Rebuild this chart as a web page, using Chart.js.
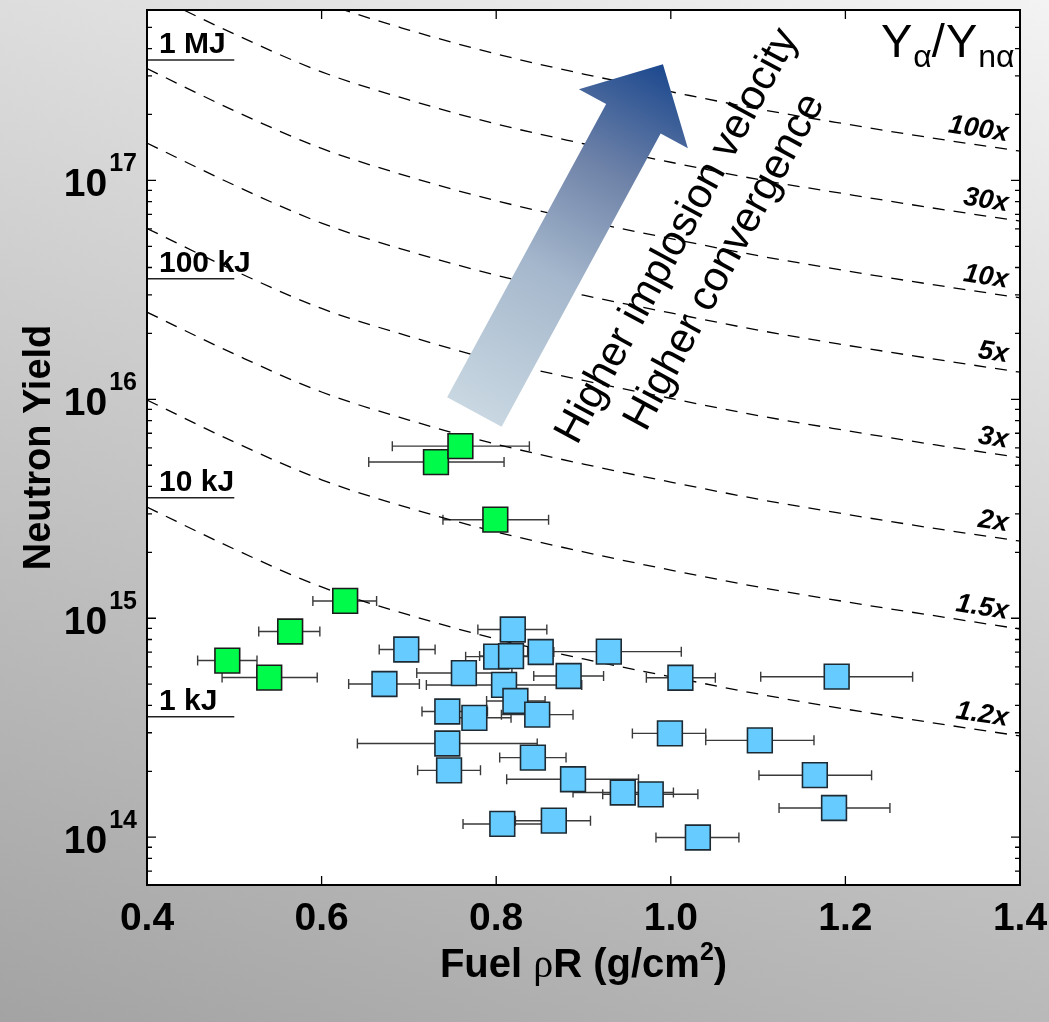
<!DOCTYPE html>
<html>
<head>
<meta charset="utf-8">
<script src="https://cdn.jsdelivr.net/npm/chart.js@4.4.1/dist/chart.umd.min.js"></script>
<style>
  html, body { margin: 0; padding: 0; }
  body {
    width: 1049px; height: 1022px; overflow: hidden;
    background: linear-gradient(200deg, #f3f3f3 0%, #a3a3a3 100%);
  }
  canvas { display: block; }
</style>
</head>
<body>
<canvas id="yieldChart" width="1049" height="1022"></canvas>
<script>
const curveRhoR = [0.4, 0.5, 0.6, 0.7, 0.8, 0.9, 1.0, 1.1, 1.2, 1.3, 1.4];
const amp100x = [1.51e18, 9.73e17, 6.53e17, 4.86e17, 3.78e17, 3.06e17, 2.54e17, 2.12e17, 1.81e17, 1.56e17, 1.36e17];
const amp30x = [7.24e17, 4.66e17, 3.13e17, 2.33e17, 1.81e17, 1.47e17, 1.21e17, 1.01e17, 8.67e16, 7.48e16, 6.52e16];
const amp10x = [3.24e17, 2.08e17, 1.40e17, 1.04e17, 8.07e16, 6.55e16, 5.42e16, 4.53e16, 3.87e16, 3.34e16, 2.91e16];
const amp5x = [1.48e17, 9.51e16, 6.38e16, 4.75e16, 3.69e16, 2.99e16, 2.48e16, 2.07e16, 1.77e16, 1.53e16, 1.33e16];
const amp3x = [6.03e16, 3.87e16, 2.60e16, 1.94e16, 1.50e16, 1.22e16, 1.01e16, 8.43e15, 7.21e15, 6.22e15, 5.42e15];
const amp2x = [2.50e16, 1.61e16, 1.08e16, 8.04e15, 6.24e15, 5.06e15, 4.19e15, 3.50e15, 2.99e15, 2.58e15, 2.25e15];
const amp1p5x = [9.93e15, 6.38e15, 4.29e15, 3.19e15, 2.48e15, 2.01e15, 1.66e15, 1.39e15, 1.19e15, 1.03e15, 8.93e14];
const amp1p2x = [3.22e15, 2.07e15, 1.39e15, 1.035e15, 8.04e14, 6.52e14, 5.40e14, 4.51e14, 3.85e14, 3.33e14, 2.90e14];
const ampCurves = [amp100x, amp30x, amp10x, amp5x, amp3x, amp2x, amp1p5x, amp1p2x];
const ampLabels = ["100x", "30x", "10x", "5x", "3x", "2x", "1.5x", "1.2x"];

// yield equivalent of fusion energy (short reference lines at left)
const energyRhoR = [0.4, 0.5];
const energyYield = [3.55e14, 3.55e15, 3.55e16, 3.55e17];
const energyLabels = ["1 kJ", "10 kJ", "100 kJ", "1 MJ"];

// green shots
const greenRhoR = [0.731, 0.759, 0.799, 0.627, 0.564, 0.492, 0.540];
const greenYield = [5.17e15, 6.11e15, 2.82e15, 1.20e15, 8.70e14, 6.41e14, 5.36e14];
const greenRhoRLow = [0.654, 0.681, 0.739, 0.590, 0.528, 0.458, 0.486];
const greenRhoRHigh = [0.809, 0.838, 0.860, 0.663, 0.598, 0.526, 0.595];

// blue shots
const blueRhoR = [0.819, 0.697, 0.800, 0.817, 0.851, 0.929, 0.763, 0.883, 0.672, 0.809,
  0.822, 0.744, 0.775, 0.847, 0.744, 0.842, 0.746, 0.888, 0.945, 0.977,
  0.807, 0.866, 1.031, 1.190, 1.011, 0.999, 1.102, 1.165, 1.187];
const blueYield = [8.89e14, 7.20e14, 6.68e14, 6.72e14, 7.01e14, 7.04e14, 5.62e14, 5.45e14, 5.01e14, 4.96e14,
  4.19e14, 3.75e14, 3.51e14, 3.63e14, 2.68e14, 2.31e14, 2.02e14, 1.84e14, 1.60e14, 1.57e14,
  1.15e14, 1.19e14, 9.97e13, 5.41e14, 5.35e14, 2.98e14, 2.77e14, 1.92e14, 1.36e14];
const blueRhoRLow = [0.779, 0.666, 0.765, 0.781, 0.836, 0.845, 0.709, 0.843, 0.631, 0.720,
  0.789, 0.715, 0.734, 0.806, 0.641, 0.804, 0.710, 0.812, 0.888, 0.922,
  0.762, 0.822, 0.983, 1.103, 0.972, 0.956, 1.040, 1.101, 1.124];
const blueRhoRHigh = [0.858, 0.730, 0.852, 0.857, 0.866, 1.012, 0.818, 0.923, 0.712, 0.898,
  0.856, 0.790, 0.817, 0.888, 0.847, 0.880, 0.782, 0.963, 1.003, 1.031,
  0.853, 0.908, 1.078, 1.277, 1.051, 1.040, 1.164, 1.230, 1.251];

// axis ticks
const xTickValues = [0.4, 0.6, 0.8, 1.0, 1.2, 1.4];
const xTickLabels = ["0.4", "0.6", "0.8", "1.0", "1.2", "1.4"];
const yTickExponents = [14, 15, 16, 17];

// arrow annotation (tail -> tip, in data units)
const arrowTail = [0.775, 8.75e15];
const arrowTip = [0.991, 3.39e17];
const arrowText = ["Higher implosion velocity", "Higher convergence"];
const arrowTextAnchor = [1.035, 4.85e16];

const SANS = "'Liberation Sans', Arial, Helvetica, sans-serif";

const toPoints = (xs, ys) => xs.map((v, i) => ({ x: v, y: ys[i] }));

const datasets = [];
datasets.push({
  label: "green",
  data: toPoints(greenRhoR, greenYield),
  pointStyle: "rect",
  pointRadius: 17.5,
  backgroundColor: "#00fb4b",
  borderColor: "#1b1b1b",
  borderWidth: 1.6,
  order: 0,
});
datasets.push({
  label: "blue",
  data: toPoints(blueRhoR, blueYield),
  pointStyle: "rect",
  pointRadius: 17.5,
  backgroundColor: "#66ccff",
  borderColor: "#1d2a33",
  borderWidth: 1.6,
  order: 1,
});
ampCurves.forEach((c, i) => {
  datasets.push({
    label: ampLabels[i],
    data: toPoints(curveRhoR, c),
    showLine: true,
    pointRadius: 0,
    borderColor: "#000",
    borderWidth: 1.3,
    borderDash: [12, 9],
    cubicInterpolationMode: "monotone",
    order: 3,
  });
});
energyYield.forEach((e, i) => {
  datasets.push({
    label: energyLabels[i],
    data: toPoints(energyRhoR, [e, e]),
    showLine: true,
    pointRadius: 0,
    borderColor: "#222",
    borderWidth: 1.5,
    order: 2,
  });
});

function errorBars(ctx, x, y, rr, yy, lo, hi) {
  rr.forEach((v, i) => {
    const py = y.getPixelForValue(yy[i]);
    const x0 = x.getPixelForValue(lo[i]);
    const x1 = x.getPixelForValue(hi[i]);
    ctx.beginPath();
    ctx.moveTo(x0, py); ctx.lineTo(x1, py);
    ctx.moveTo(x0, py - 5); ctx.lineTo(x0, py + 5);
    ctx.moveTo(x1, py - 5); ctx.lineTo(x1, py + 5);
    ctx.stroke();
  });
}

const decorations = {
  id: "decorations",
  beforeDraw(chart) {
    const { ctx, chartArea: a } = chart;
    ctx.save();
    ctx.fillStyle = "#fff";
    ctx.fillRect(a.left, a.top, a.right - a.left, a.bottom - a.top);
    ctx.restore();
  },
  beforeDatasetsDraw(chart) {
    const { ctx, scales: { x, y } } = chart;
    ctx.save();
    ctx.lineWidth = 1.4;
    ctx.strokeStyle = "#3a3a3a";
    errorBars(ctx, x, y, blueRhoR, blueYield, blueRhoRLow, blueRhoRHigh);
    errorBars(ctx, x, y, greenRhoR, greenYield, greenRhoRLow, greenRhoRHigh);
    ctx.restore();
  },
  afterDatasetsDraw(chart) {
    const { ctx, chartArea: a, scales: { x, y } } = chart;
    ctx.save();

    // big gradient arrow
    const tx = x.getPixelForValue(arrowTail[0]), ty = y.getPixelForValue(arrowTail[1]);
    const hx = x.getPixelForValue(arrowTip[0]), hy = y.getPixelForValue(arrowTip[1]);
    const len = Math.hypot(hx - tx, hy - ty);
    const ux = (hx - tx) / len, uy = (hy - ty) / len;
    const px = -uy, py = ux;
    const bw = 31, hw = 62, hl = 62;
    const nx = hx - ux * hl, ny = hy - uy * hl;
    const grad = ctx.createLinearGradient(tx, ty, hx, hy);
    grad.addColorStop(0, "rgb(200,215,225)");
    grad.addColorStop(0.4, "rgb(165,183,204)");
    grad.addColorStop(0.7, "rgb(110,130,168)");
    grad.addColorStop(1, "rgb(28,72,142)");
    ctx.fillStyle = grad;
    ctx.beginPath();
    ctx.moveTo(tx + px * bw, ty + py * bw);
    ctx.lineTo(nx + px * bw, ny + py * bw);
    ctx.lineTo(nx + px * hw, ny + py * hw);
    ctx.lineTo(hx, hy);
    ctx.lineTo(nx - px * hw, ny - py * hw);
    ctx.lineTo(nx - px * bw, ny - py * bw);
    ctx.lineTo(tx - px * bw, ty - py * bw);
    ctx.closePath();
    ctx.fill();

    // rotated text next to arrow
    ctx.save();
    ctx.translate(x.getPixelForValue(arrowTextAnchor[0]), y.getPixelForValue(arrowTextAnchor[1]));
    ctx.rotate(Math.atan2(uy, ux));
    ctx.fillStyle = "#000";
    ctx.font = "42px " + SANS;
    ctx.textAlign = "center";
    ctx.textBaseline = "middle";
    ctx.fillText(arrowText[0], 0, -27);
    ctx.fillText(arrowText[1], 0, 27);
    ctx.restore();

    // amplification labels along the right edge
    ctx.fillStyle = "#000";
    ctx.font = "italic bold 27px " + SANS;
    ctx.textAlign = "right";
    ctx.textBaseline = "alphabetic";
    ampCurves.forEach((c, i) => {
      const n = c.length;
      const x1 = x.getPixelForValue(curveRhoR[n - 2]), y1 = y.getPixelForValue(c[n - 2]);
      const x2 = x.getPixelForValue(curveRhoR[n - 1]), y2 = y.getPixelForValue(c[n - 1]);
      const ang = Math.atan2(y2 - y1, x2 - x1);
      const ax = a.right - 13;
      const ay = y2 - (x2 - ax) * Math.tan(ang) - 8;
      ctx.save();
      ctx.translate(ax, ay);
      ctx.rotate(ang);
      ctx.fillText(ampLabels[i], 0, 0);
      ctx.restore();
    });

    // energy labels
    ctx.font = "bold 30px " + SANS;
    ctx.textAlign = "left";
    energyYield.forEach((e, i) => {
      ctx.fillText(energyLabels[i], a.left + 12, y.getPixelForValue(e) - 7);
    });

    // Y_alpha / Y_n-alpha header
    let cx = a.right - 139;
    const big = "47px " + SANS, small = "32px " + SANS;
    const header = [["Y", big, 0], ["\u03b1", small, 10], ["/", big, 0], ["Y", big, 0], ["n\u03b1", small, 10]];
    header.forEach(([t, f, dy]) => {
      ctx.font = f;
      ctx.fillText(t, cx, a.top + 47 + dy);
      cx += ctx.measureText(t).width + (dy ? 0 : 1);
    });

    // frame
    ctx.strokeStyle = "#000";
    ctx.lineWidth = 2;
    ctx.strokeRect(a.left, a.top, a.right - a.left, a.bottom - a.top);

    // inward ticks
    ctx.lineWidth = 1.3;
    ctx.beginPath();
    xTickValues.forEach(v => {
      const p = x.getPixelForValue(v);
      ctx.moveTo(p, a.bottom); ctx.lineTo(p, a.bottom - 9);
      ctx.moveTo(p, a.top); ctx.lineTo(p, a.top + 9);
    });
    for (let e = 13; e <= 17; e++) {
      for (let k = 1; k <= 9; k++) {
        const v = k * Math.pow(10, e);
        if (v < y.min || v > y.max) continue;
        const p = y.getPixelForValue(v);
        const tl = k === 1 ? 9 : 5;
        ctx.moveTo(a.left, p); ctx.lineTo(a.left + tl, p);
        ctx.moveTo(a.right, p); ctx.lineTo(a.right - tl, p);
      }
    }
    ctx.stroke();

    // tick labels
    ctx.fillStyle = "#000";
    ctx.font = "bold 39px " + SANS;
    ctx.textAlign = "center";
    xTickValues.forEach((v, i) => {
      ctx.fillText(xTickLabels[i], x.getPixelForValue(v), a.bottom + 45);
    });
    yTickExponents.forEach(e => {
      const p = y.getPixelForValue(Math.pow(10, e));
      ctx.textAlign = "right";
      ctx.font = "bold 25px " + SANS;
      const supW = ctx.measureText(String(e)).width;
      ctx.fillText(String(e), a.left - 10, p - 9);
      ctx.font = "bold 39px " + SANS;
      ctx.fillText("10", a.left - 12 - supW, p + 16);
    });

    // axis titles
    ctx.save();
    ctx.translate(a.left - 97, (a.top + a.bottom) / 2);
    ctx.rotate(-Math.PI / 2);
    ctx.textAlign = "center";
    ctx.font = "bold 38px " + SANS;
    ctx.fillText("Neutron Yield", 0, 0);
    ctx.restore();

    const parts = [
      ["Fuel ", "bold 40px " + SANS, 0],
      ["\u03c1", "40px 'Liberation Serif', 'DejaVu Serif', serif", 0],
      ["R (g/cm", "bold 40px " + SANS, 0],
      ["2", "bold 25px " + SANS, -17],
      [")", "bold 40px " + SANS, 0],
    ];
    let total = 0;
    parts.forEach(([t, f]) => { ctx.font = f; total += ctx.measureText(t).width; });
    let sx = (a.left + a.right) / 2 - total / 2;
    ctx.textAlign = "left";
    parts.forEach(([t, f, dy]) => {
      ctx.font = f;
      ctx.fillText(t, sx, a.bottom + 92 + dy);
      sx += ctx.measureText(t).width;
    });

    ctx.restore();
  },
};

new Chart(document.getElementById("yieldChart"), {
  type: "scatter",
  data: { datasets },
  options: {
    responsive: false,
    devicePixelRatio: 1,
    animation: false,
    events: [],
    layout: { autoPadding: false, padding: { left: 147, right: 29, top: 10, bottom: 137 } },
    plugins: { legend: { display: false }, tooltip: { enabled: false } },
    scales: {
      x: { type: "linear", min: 0.4, max: 1.4, display: false },
      y: { type: "logarithmic", min: 6.05e13, max: 6.0e17, display: false },
    },
  },
  plugins: [decorations],
});
</script>
</body>
</html>
